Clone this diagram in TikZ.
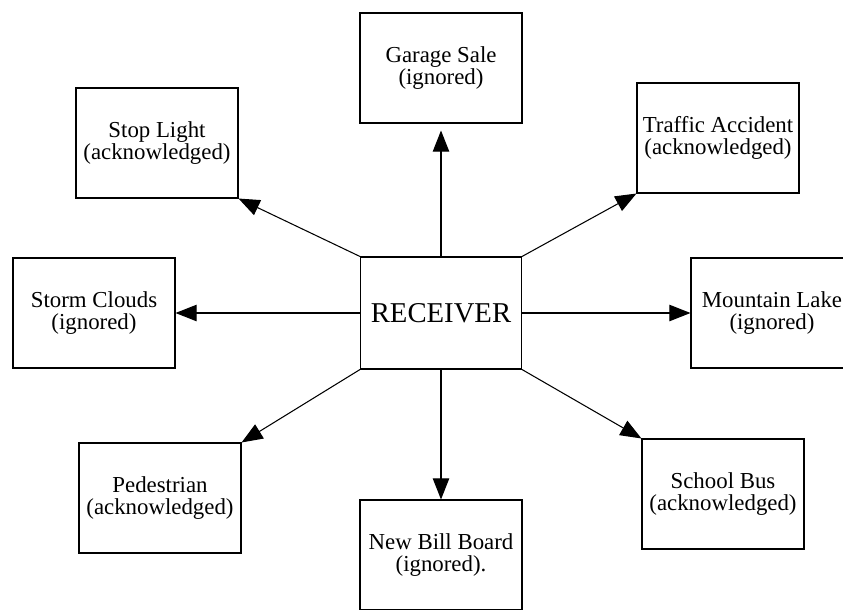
\documentclass[tikz,border=0pt]{standalone}
\usepackage{fontspec}
\setmainfont{Liberation Serif}
\usetikzlibrary{arrows.meta}
\tikzset{
  event box/.style={
    draw,
    line width=0.9pt,
    minimum width=4.86cm,
    minimum height=3.3cm,
    align=center,
    font=\fontsize{19.5}{18.5}\selectfont,
  },
  receiver box/.style={
    draw,
    line width=0.9pt,
    minimum width=4.83cm,
    minimum height=3.36cm,
    font=\fontsize{24.5}{30}\selectfont,
  },
  signal/.style={
    -{Triangle[length=18pt, width=14pt]},
    line width=0.9pt,
  },
}

\begin{document}
\begin{tikzpicture}[x=0.03cm, y=-0.03cm]
      \clip (0,0) rectangle (843,609);

      \node[receiver box] (rcv) at (441,313) {RECEIVER};

      \node[event box] (garage)  at (441,68)  {Garage Sale\\(ignored)};
      \node[event box] (stop)    at (157,143) {Stop Light\\(acknowledged)};
      \node[event box] (traffic) at (718,138) {Traffic Accident\\(acknowledged)};
      \node[event box] (storm)   at (94,313)  {Storm Clouds\\(ignored)};
      \node[event box] (lake)    at (772,313) {Mountain Lake\\(ignored)};
      \node[event box] (walker)  at (160,498) {Pedestrian\\(acknowledged)};
      \node[event box] (bus)     at (723,494) {School Bus\\(acknowledged)};
      \node[event box] (board)   at (441,555) {New Bill Board\\(ignored).};

      \draw[signal, shorten >=0.21cm] (rcv.north) -- (garage.south);
      \draw[signal] (rcv.north west) -- (stop.south east);
      \draw[signal] (rcv.north east) -- (traffic.south west);
      \draw[signal] (rcv.west) -- (storm.east);
      \draw[signal] (rcv.east) -- (lake.west);
      \draw[signal] (rcv.south west) -- (walker.north east);
      \draw[signal] (rcv.south east) -- (bus.north west);
      \draw[signal] (rcv.south) -- (board.north);
    \end{tikzpicture}
\end{document}
